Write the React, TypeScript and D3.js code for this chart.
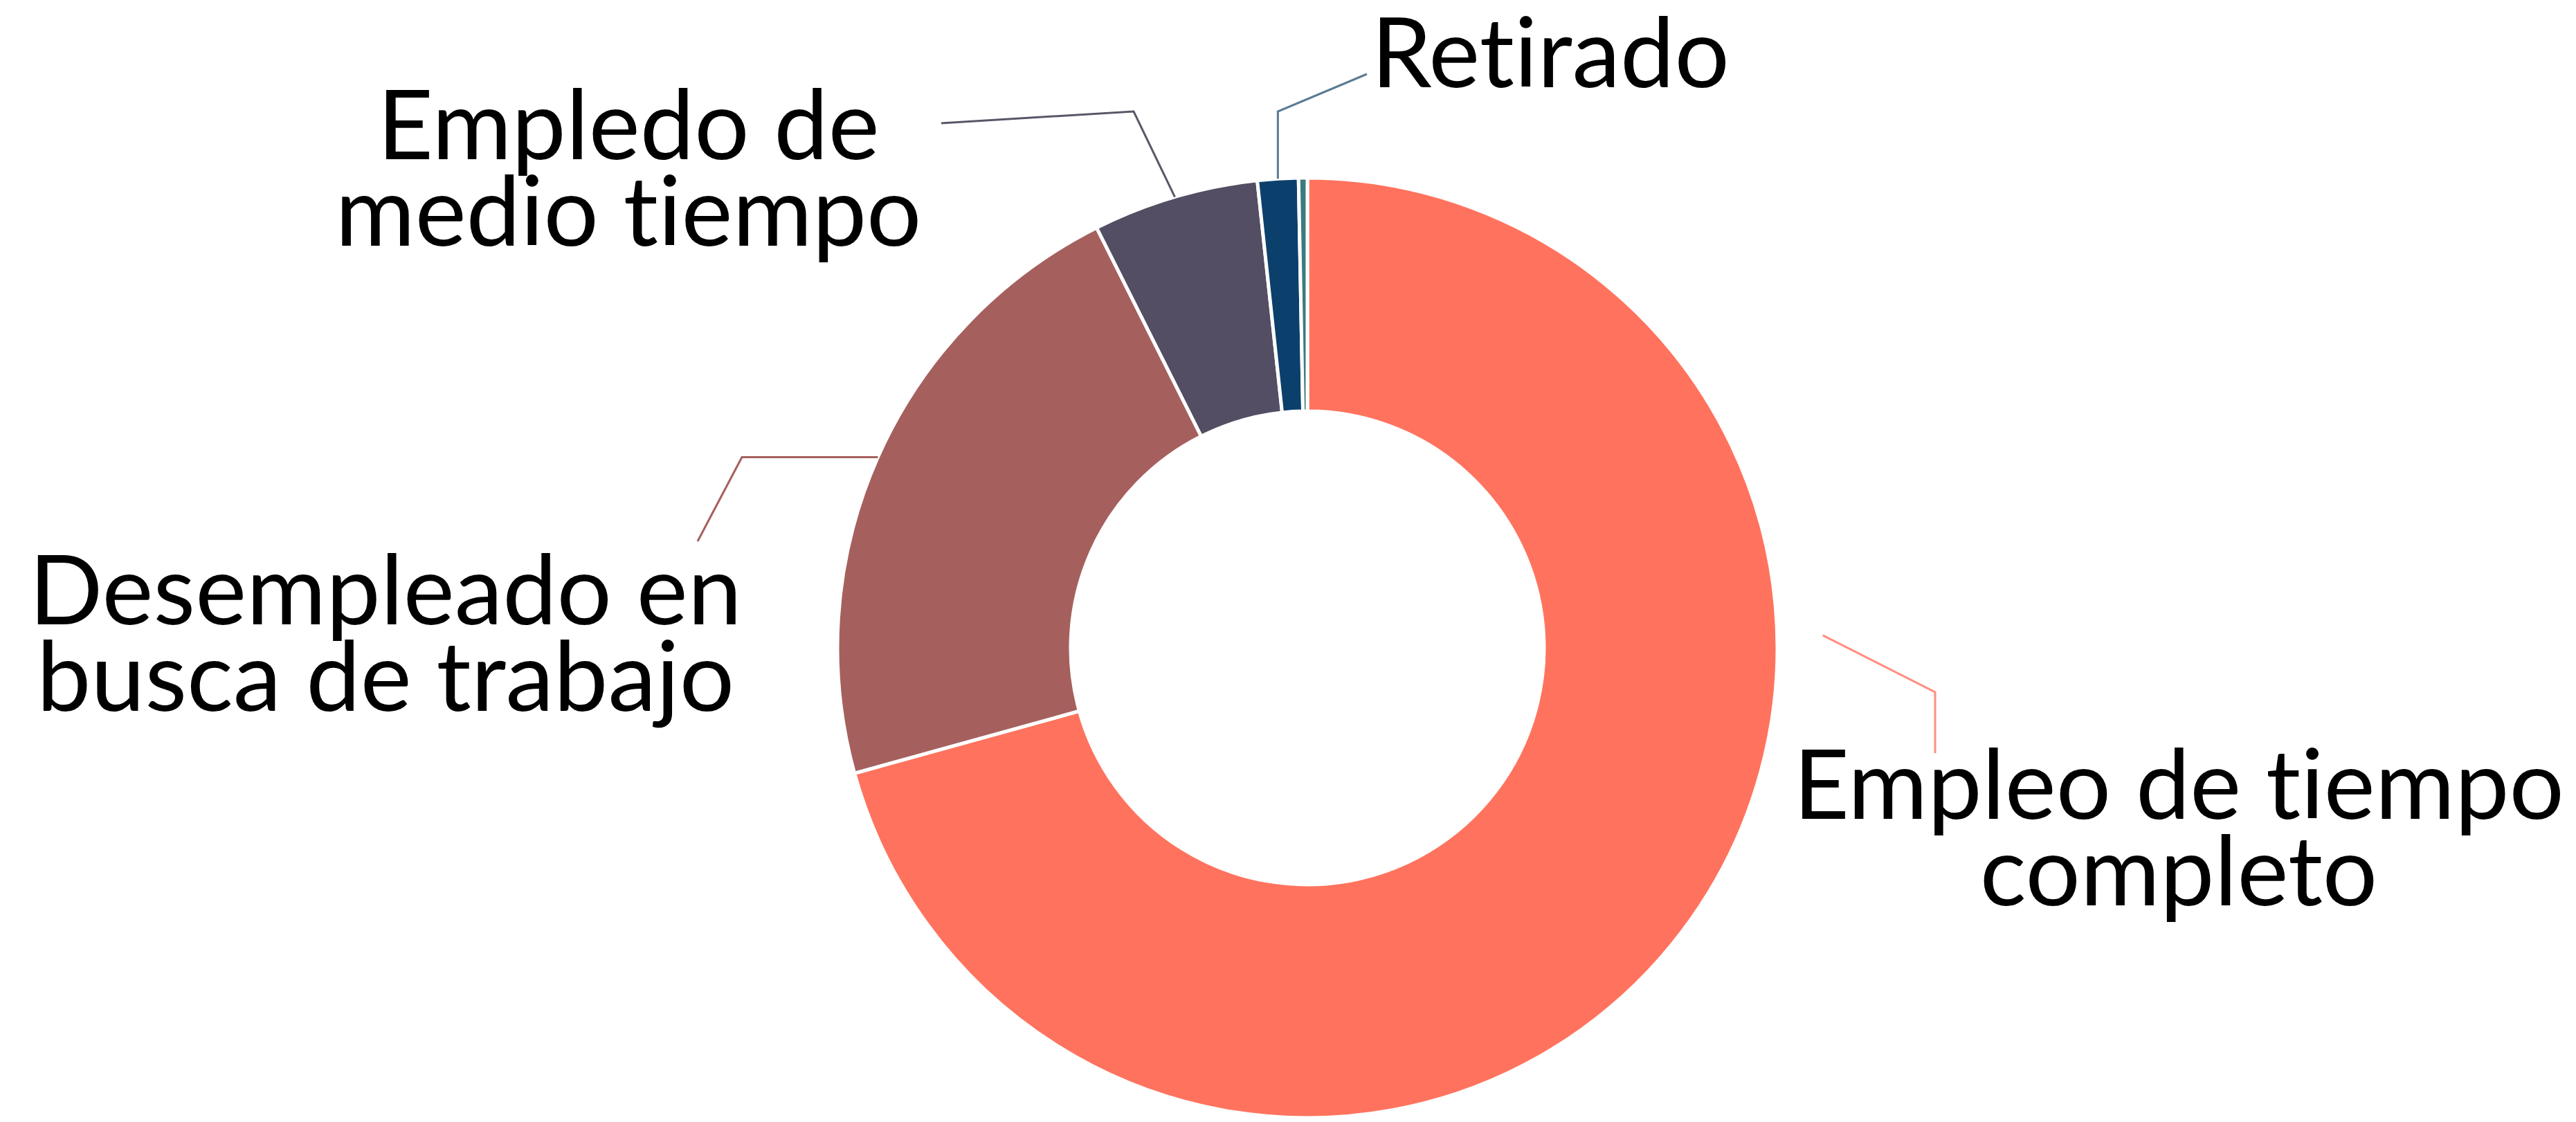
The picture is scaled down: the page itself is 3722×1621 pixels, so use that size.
import React from "react";
import * as d3 from "d3";

// ---- data ----
const categories = [
  "Empleo de tiempo completo",
  "Desempleado en busca de trabajo",
  "Empledo de medio tiempo",
  "Retirado",
  "Otro",
];
const values = [70.7, 21.9, 5.7, 1.4, 0.3];
const colors = ["#FF735E", "#A5605E", "#534E63", "#0B406C", "#3A7B80"];
const labelLines: string[][] = [
  ["Empleo de tiempo", "completo"],
  ["Desempleado en", "busca de trabajo"],
  ["Empledo de", "medio tiempo"],
  ["Retirado"],
  [],
];
const leaderColors = ["#FF8E80", "#A5605E", "#5A5668", "#5A7C94", "none"];

// ---- layout ----
const W = 3722;
const H = 1621;
const CX = 1889;
const CY = 936;
const R_OUT = 679;
const R_IN = 342;
const FONT = 140;
const LINE_H = 125;

type LabelLayout = {
  x: number; // centre of text block
  y: number; // baseline of first line
  start: [number, number]; // leader end near the text
  elbow: [number, number] | null;
  elbowMode?: "h" | "v";
  anchorAngleDeg?: number; // optional custom anchor angle
  anchorR?: number;
};

const layout: LabelLayout[] = [
  { x: 3148, y: 1183, start: [2796, 1088], elbow: [2796, 1000], anchorAngleDeg: 88.6, anchorR: 745 },
  { x: 557, y: 902, start: [1008, 782], elbow: [1072, 0], elbowMode: "h" },
  { x: 908, y: 230, start: [1360, 178], elbow: [1638, 161] },
  { x: 2240, y: 126, start: [1975, 107], elbow: [0, 161], elbowMode: "v" },
  { x: 0, y: 0, start: [0, 0], elbow: null },
];

export default function App() {
  const data = categories.map((c, i) => ({ name: c, value: values[i], i }));
  const pie = d3
    .pie<any>()
    .sort(null)
    .value((d: any) => d.value)
    .startAngle(0)
    .endAngle(2 * Math.PI);
  const arcs = pie(data);
  const arc = d3.arc<any>().innerRadius(R_IN).outerRadius(R_OUT);

  const polar = (a: number, r: number): [number, number] => [
    CX + Math.sin(a) * r,
    CY - Math.cos(a) * r,
  ];

  const leaders = arcs.map((a, i) => {
    const L = layout[i];
    if (!L.elbow || labelLines[i].length === 0) return null;
    const ang =
      L.anchorAngleDeg !== undefined
        ? (L.anchorAngleDeg * Math.PI) / 180
        : (a.startAngle + a.endAngle) / 2;
    const anchor = polar(ang, L.anchorR ?? R_OUT);
    let elbow: [number, number] = [...L.elbow] as [number, number];
    if (L.elbowMode === "h") elbow = [L.elbow[0], anchor[1]];
    if (L.elbowMode === "v") elbow = [anchor[0], L.elbow[1]];
    const pts = [L.start, elbow, anchor];
    return { pts, color: leaderColors[i] };
  });

  const line = d3.line();

  return (
    <svg
      width={W}
      height={H}
      style={{ position: "absolute", left: 0, top: 0, display: "block", background: "#fff" }}
    >
      <g transform={`translate(${CX},${CY})`}>
        {arcs.map((a, i) => (
          <path
            key={i}
            d={arc(a) as string}
            fill={colors[i]}
            stroke="#fff"
            strokeWidth={5}
          />
        ))}
      </g>
      {leaders.map((l, i) =>
        l ? (
          <path
            key={"l" + i}
            d={line(l.pts as any) as string}
            fill="none"
            stroke={l.color}
            strokeWidth={3}
          />
        ) : null
      )}
      {labelLines.map((lines, i) =>
        lines.length ? (
          <text
            key={"t" + i}
            x={layout[i].x}
            y={layout[i].y}
            textAnchor="middle"
            fontFamily="Lato, 'Noto Sans', sans-serif"
            fontSize={FONT}
            fill="#000"
            style={{ fontVariantLigatures: "none", fontFeatureSettings: "'liga' 0, 'clig' 0" }}
          >
            {lines.map((s, j) => (
              <tspan key={j} x={layout[i].x} y={layout[i].y + j * LINE_H}>
                {s}
              </tspan>
            ))}
          </text>
        ) : null
      )}
    </svg>
  );
}
